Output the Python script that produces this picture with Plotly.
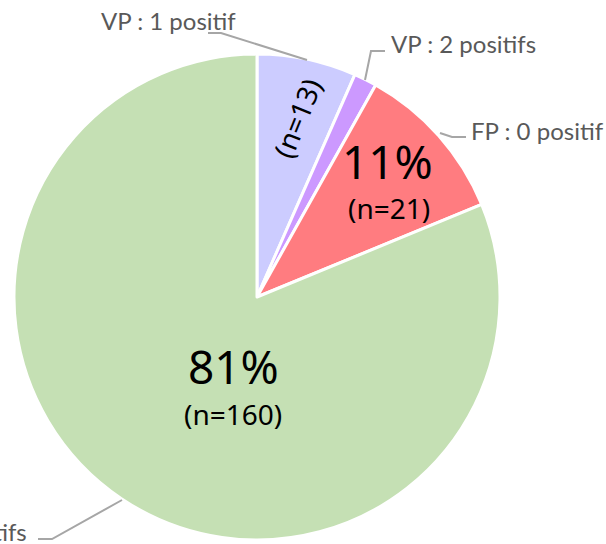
import plotly.graph_objects as go

# data
labels = ["VP : 1 positif", "VP : 2 positifs", "FP : 0 positif", "VN : 0 positifs"]
counts = [13, 3, 21, 160]
colors = ["#ccccff", "#cc99ff", "#ff7c80", "#c5e0b4"]

W, H = 606, 544
# pie centre and radius in pixels
cx, cy, R = 257, 297, 243

total = sum(counts)
pcts = [round(100 * c / total) for c in counts]


def px(x, y):
    return x / W, 1 - y / H


fig = go.Figure(
    go.Pie(
        labels=labels,
        values=counts,
        sort=False,
        direction="clockwise",
        rotation=0,
        marker=dict(colors=colors, line=dict(color="white", width=3)),
        textinfo="none",
        hovertemplate="%{label}<br>n=%{value}<br>%{percent}<extra></extra>",
        domain=dict(x=[(cx - R) / W, (cx + R) / W], y=[1 - (cy + R) / H, 1 - (cy - R) / H]),
        showlegend=False,
    )
)

annotations = []


def note(pos, text, size, color="black", family="Noto Sans", xanchor="center", angle=0):
    x, y = px(*pos)
    annotations.append(dict(x=x, y=y, xref="paper", yref="paper", text=text,
                            xanchor=xanchor, yanchor="middle", textangle=angle,
                            showarrow=False, font=dict(family=family, size=size, color=color)))


# inside labels (percentage + count)
note((233, 366), f"{pcts[3]}%", 46)
note((233, 414), f"(n={counts[3]})", 28)
note((387, 161), f"{pcts[2]}%", 46)
note((389, 208), f"(n={counts[2]})", 28)
# radial count in the lavender slice
note((297, 118), f"(n={counts[0]})", 28, angle=-68)

# outside category labels
grey = "#595959"
note((99, 21), labels[0], 24, grey, "Lato", "left")
note((389, 43), labels[1], 24, grey, "Lato", "left")
note((469, 130), labels[2], 24, grey, "Lato", "left")
note((29, 531), labels[3], 24, grey, "Lato", "right")

# leader lines
leaders = [
    [(208, 33), (221, 33), (307, 60)],
    [(385, 51), (371, 51), (365, 80)],
    [(466, 137), (452, 137), (440, 133)],
    [(38, 539), (52, 539), (122, 500)],
]
shapes = []
for pts in leaders:
    path = "M " + " L ".join(f"{px(a, b)[0]},{px(a, b)[1]}" for a, b in pts)
    shapes.append(dict(type="path", path=path, xref="paper", yref="paper",
                       line=dict(color="#a6a6a6", width=2)))

fig.update_layout(
    width=W,
    height=H,
    margin=dict(l=0, r=0, t=0, b=0),
    paper_bgcolor="white",
    plot_bgcolor="white",
    showlegend=False,
    annotations=annotations,
    shapes=shapes,
)

fig.write_html("out.html", config={"displayModeBar": False},
               post_script="document.body.style.margin='0';")
